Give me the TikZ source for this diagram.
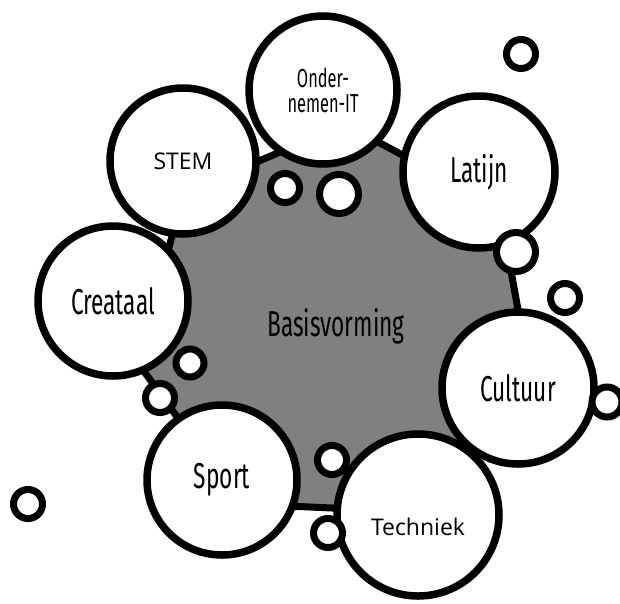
\documentclass[tikz,border=0pt]{standalone}
\usepackage{fontspec}
\newfontfamily\agency[FakeStretch=0.63]{Fira Sans}
\newfontfamily\segoe{Open Sans}
\usetikzlibrary{shapes.geometric,shadows}
\begin{document}
\begin{tikzpicture}[
  x=1pt, y=-1pt,
  core/.style={regular polygon, regular polygon sides=7, shape border rotate=-2.6, draw, line width=7pt, fill=gray, inner sep=0pt, minimum size=404pt, drop shadow={shadow xshift=2pt, shadow yshift=-2pt, opacity=0.3}, font=\agency\fontsize{36}{38}\selectfont},
  bubble/.style={circle, draw, line width=7.5pt, fill=white, inner sep=0pt, minimum size=152pt, drop shadow={shadow xshift=2pt, shadow yshift=-2pt, opacity=0.3}, font=\agency\fontsize{36}{38}\selectfont},
  bead/.style={circle, draw, line width=7pt, fill=white, inner sep=0pt, minimum size=29pt, drop shadow={shadow xshift=2pt, shadow yshift=-2pt, opacity=0.3}}
]
\useasboundingbox (0,0) rectangle (620,603);

\node[core] (basis) at (336,326) {Basisvorming};

\node[bubble, minimum size=150pt] (creataal) at (113,301) {Creataal};
\node[bubble, minimum size=146pt, font=\segoe\fontsize{23}{24}\selectfont] (stem) at (183,161) {STEM};
\node[bubble, minimum size=148pt, align=center, font=\agency\fontsize{26}{25}\selectfont] (onder) at (323,90) {Onder-\\nemen-IT};
\node[bubble] (latijn) at (479,172) {Latijn};
\node[bubble] (cultuur) at (518,388) {Cultuur};
\node[bubble, minimum size=162pt, label={[font=\segoe\fontsize{23}{24}\selectfont, yshift=-12pt]center:Techniek}] (techniek) at (418,515) {};
\node[bubble, minimum size=150pt] (sport) at (222,480) {Sport};

% kleine bellen
\node[bead] (b1) at (521,54) {};
\node[bead] (b2) at (285,188) {};
\node[bead, minimum size=39pt] (b3) at (339,194) {};
\node[bead, minimum size=39pt] (b4) at (516,252) {};
\node[bead] (b5) at (565,298) {};
\node[bead, minimum size=30pt] (b6) at (607,402) {};
\node[bead, minimum size=28pt] (b7) at (190,363) {};
\node[bead] (b8) at (160,398) {};
\node[bead] (b9) at (332,460) {};
\node[bead] (b10) at (328,533) {};
\node[bead] (b11) at (28,504) {};
\end{tikzpicture}
\end{document}
